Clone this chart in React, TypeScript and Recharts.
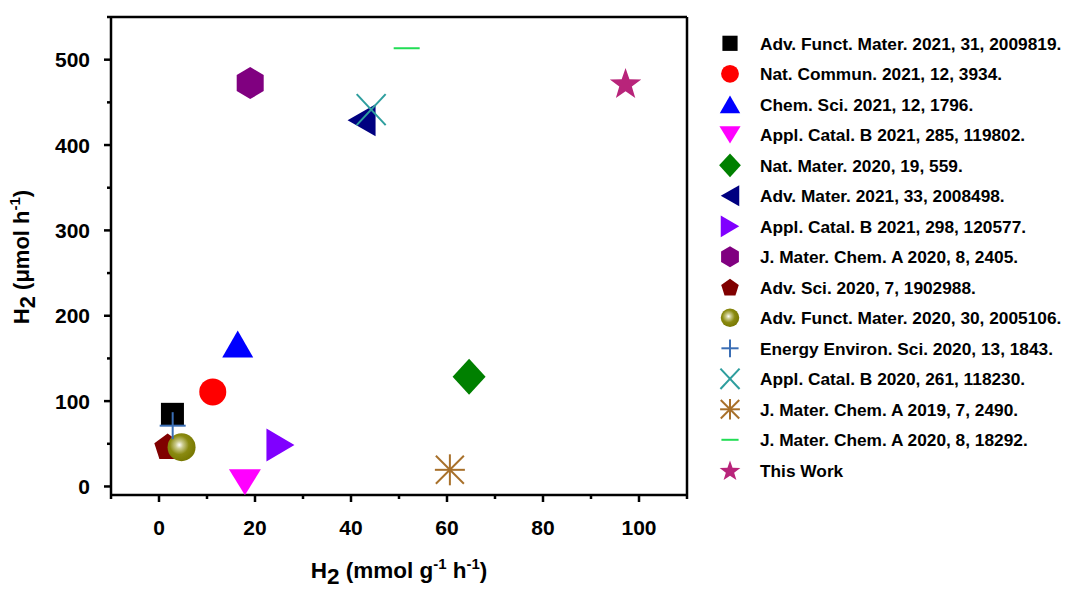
import React from 'react';
import { ScatterChart, Scatter, XAxis, YAxis, ReferenceLine } from 'recharts';

// literature references, in legend order
const references = [
  'Adv. Funct. Mater. 2021, 31, 2009819.',
  'Nat. Commun. 2021, 12, 3934.',
  'Chem. Sci. 2021, 12, 1796.',
  'Appl. Catal. B 2021, 285, 119802.',
  'Nat. Mater. 2020, 19, 559.',
  'Adv. Mater. 2021, 33, 2008498.',
  'Appl. Catal. B 2021, 298, 120577.',
  'J. Mater. Chem. A 2020, 8, 2405.',
  'Adv. Sci. 2020, 7, 1902988.',
  'Adv. Funct. Mater. 2020, 30, 2005106.',
  'Energy Environ. Sci. 2020, 13, 1843.',
  'Appl. Catal. B 2020, 261, 118230.',
  'J. Mater. Chem. A 2019, 7, 2490.',
  'J. Mater. Chem. A 2020, 8, 18292.',
  'This Work',
];

// H2 (mmol g-1 h-1)
const h2Mass = [2.8, 11.2, 16.4, 17.9, 64.6, 42.2, 25.3, 19.0, 1.8, 4.7, 2.85, 44.2, 60.6, 51.6, 97.2];
// H2 (umol h-1)
const h2Abs = [84.5, 110.8, 167, 5, 128.4, 429, 48.7, 472.6, 46.7, 46, 71.2, 441.5, 19.5, 513.4, 472.6];

const xTicks = [-10, 0, 10, 20, 30, 40, 50, 60, 70, 80, 90, 100, 110];
const yTicks = [0, 50, 100, 150, 200, 250, 300, 350, 400, 450, 500, 550];

const markerKinds = ['square', 'circle', 'up', 'down', 'diamond', 'left', 'right', 'hexagon', 'pentagon', 'sphere', 'plus', 'cross', 'asterisk', 'dash', 'star'];
const markerColors = ['#000000', '#ff0000', '#0000ff', '#ff00ff', '#008000', '#000080', '#8000ff', '#800080', '#800000', '#808000', '#3a6eb5', '#2e9e9e', '#a8702a', '#22dd55', '#b8247a'];

const FONT = '"Liberation Sans", Arial, sans-serif';

const pts = (arr: number[][], cx: number, cy: number, s: number) =>
  arr.map(([a, b]) => `${cx + a * s},${cy + b * s}`).join(' ');

function Marker({ kind, color, cx, cy, s = 1, id }: { kind: string; color: string; cx: number; cy: number; s?: number; id: string }) {
  switch (kind) {
    case 'square':
      return <rect x={cx - 11.5 * s} y={cy - 11.5 * s} width={23 * s} height={23 * s} fill={color} />;
    case 'circle':
      return <circle cx={cx} cy={cy} r={13.5 * s} fill={color} />;
    case 'up':
      return <polygon points={pts([[0, -13.5], [15.5, 13.5], [-15.5, 13.5]], cx, cy, s)} fill={color} />;
    case 'down':
      return <polygon points={pts([[-16, -13], [16, -13], [0, 13]], cx, cy, s)} fill={color} />;
    case 'diamond':
      return <polygon points={pts([[0, -18], [16.5, 0], [0, 18], [-16.5, 0]], cx, cy, s)} fill={color} />;
    case 'left':
      return <polygon points={pts([[-14, 0], [14, -16], [14, 16]], cx, cy, s)} fill={color} />;
    case 'right':
      return <polygon points={pts([[14, 0], [-14, -16.5], [-14, 16.5]], cx, cy, s)} fill={color} />;
    case 'hexagon':
      return <polygon points={pts([[0, -16], [13.5, -8], [13.5, 8], [0, 16], [-13.5, 8], [-13.5, -8]], cx, cy, s)} fill={color} />;
    case 'pentagon': {
      const p = [0, 1, 2, 3, 4].map((k) => {
        const a = (-90 + 72 * k) * Math.PI / 180;
        return [14 * Math.cos(a), 14 * Math.sin(a) + 1];
      });
      return <polygon points={pts(p, cx, cy, s)} fill={color} />;
    }
    case 'sphere':
      return (
        <g>
          <defs>
            <radialGradient id={id} cx="0.42" cy="0.42" r="0.62">
              <stop offset="0" stopColor="#ffffff" />
              <stop offset="0.22" stopColor="#c9c98a" />
              <stop offset="0.55" stopColor="#8a8a10" />
              <stop offset="1" stopColor="#767600" />
            </radialGradient>
          </defs>
          <circle cx={cx} cy={cy} r={14 * s} fill={`url(#${id})`} />
        </g>
      );
    case 'plus':
      return (
        <g stroke={color} strokeWidth={2}>
          <line x1={cx - 13 * s} x2={cx + 13 * s} y1={cy} y2={cy} />
          <line x1={cx} x2={cx} y1={cy - 13.5 * s} y2={cy + 13.5 * s} />
        </g>
      );
    case 'cross':
      return (
        <g stroke={color} strokeWidth={2}>
          <line x1={cx - 14.5 * s} x2={cx + 14.5 * s} y1={cy - 15.5 * s} y2={cy + 15.5 * s} />
          <line x1={cx - 14.5 * s} x2={cx + 14.5 * s} y1={cy + 15.5 * s} y2={cy - 15.5 * s} />
        </g>
      );
    case 'asterisk':
      return (
        <g stroke={color} strokeWidth={2}>
          <line x1={cx - 15 * s} x2={cx + 15 * s} y1={cy} y2={cy} />
          <line x1={cx} x2={cx} y1={cy - 15.5 * s} y2={cy + 15.5 * s} />
          <line x1={cx - 14 * s} x2={cx + 14 * s} y1={cy - 14 * s} y2={cy + 14 * s} />
          <line x1={cx - 14 * s} x2={cx + 14 * s} y1={cy + 14 * s} y2={cy - 14 * s} />
        </g>
      );
    case 'dash':
      return <line x1={cx - 13 * s} x2={cx + 13 * s} y1={cy} y2={cy} stroke={color} strokeWidth={2} />;
    case 'star': {
      const p: number[][] = [];
      for (let k = 0; k < 10; k++) {
        const a = (-90 + 36 * k) * Math.PI / 180;
        const r = k % 2 === 0 ? 16.5 : 6.6;
        p.push([r * Math.cos(a), r * Math.sin(a) + 1.5]);
      }
      return <polygon points={pts(p, cx, cy, s)} fill={color} />;
    }
    default:
      return null;
  }
}

const renderYTick = (props: any) => {
  const { x, y, payload } = props;
  const major = payload.value % 100 === 0;
  return (
    <g>
      <line x1={x - (major ? 7 : 4)} x2={x} y1={y} y2={y} stroke="#000" strokeWidth={2.5} />
      {major && (
        <text x={x - 21} y={y} dy="0.36em" textAnchor="end" fontFamily={FONT} fontWeight="bold" fontSize={21} fill="#000">
          {payload.value}
        </text>
      )}
    </g>
  );
};

const renderXTick = (props: any) => {
  const { x, y, payload } = props;
  const major = payload.value % 20 === 0;
  return (
    <g>
      <line x1={x} x2={x} y1={y} y2={y + (major ? 7 : 4)} stroke="#000" strokeWidth={2.5} />
      {major && (
        <text x={x} y={y + 40} textAnchor="middle" fontFamily={FONT} fontWeight="bold" fontSize={21} fill="#000">
          {payload.value}
        </text>
      )}
    </g>
  );
};

const XTitle = (props: any) => {
  const { viewBox } = props;
  const cx = viewBox.x + viewBox.width / 2;
  return (
    <text x={cx} y={578} textAnchor="middle" fontFamily={FONT} fontWeight="bold" fontSize={22.5} fill="#000">
      <tspan>H</tspan>
      <tspan dy={6}>2</tspan>
      <tspan dy={-6}> (mmol g</tspan>
      <tspan dy={-9} fontSize={15}>-1</tspan>
      <tspan dy={9}> h</tspan>
      <tspan dy={-9} fontSize={15}>-1</tspan>
      <tspan dy={9}>)</tspan>
    </text>
  );
};

const YTitle = () => {
  const cx = 29;
  const cy = 257;
  return (
    <text x={cx} y={cy} transform={`rotate(-90, ${cx}, ${cy})`} textAnchor="middle" fontFamily={FONT} fontWeight="bold" fontSize={22} fill="#000">
      <tspan>H</tspan>
      <tspan dy={6}>2</tspan>
      <tspan dy={-6}> (μmol h</tspan>
      <tspan dy={-9} fontSize={15}>-1</tspan>
      <tspan dy={9}>)</tspan>
    </text>
  );
};

export default function App() {
  return (
    <div style={{ position: 'fixed', left: 0, top: 0, width: 1067, height: 590, background: '#fff' }}>
      <ScatterChart width={700} height={590} margin={{ top: 17, right: 13, bottom: 35, left: 51 }}>
        <XAxis
          type="number"
          dataKey="x"
          domain={[-10, 110]}
          ticks={xTicks}
          interval={0}
          allowDataOverflow
          height={60}
          tickSize={0}
          tickMargin={0}
          tickLine={false}
          tick={renderXTick}
          axisLine={{ stroke: '#000', strokeWidth: 2.5 }}
          label={<XTitle />}
        />
        <YAxis
          type="number"
          dataKey="y"
          domain={[-10, 550]}
          ticks={yTicks}
          interval={0}
          allowDataOverflow
          width={60}
          tickSize={0}
          tickMargin={0}
          tickLine={false}
          tick={renderYTick}
          axisLine={{ stroke: '#000', strokeWidth: 2.5 }}
          label={<YTitle />}
        />
        <ReferenceLine y={550} stroke="#000" strokeWidth={2.5} />
        <ReferenceLine x={110} stroke="#000" strokeWidth={2.5} />
        {references.map((ref, i) => (
          <Scatter
            key={ref}
            name={ref}
            data={[{ x: h2Mass[i], y: h2Abs[i] }]}
            isAnimationActive={false}
            shape={(p: any) => <Marker kind={markerKinds[i]} color={markerColors[i]} cx={p.cx} cy={p.cy} id={`plot-sph-${i}`} />}
          />
        ))}
      </ScatterChart>
      <svg width={367} height={590} style={{ position: 'absolute', left: 700, top: 0 }}>
        {references.map((ref, i) => {
          const y = 43.3 + i * 30.5;
          return (
            <g key={ref}>
              <Marker kind={markerKinds[i]} color={markerColors[i]} cx={30} cy={y} s={0.66} id={`leg-sph-${i}`} />
              <text x={60} y={y} dy="0.36em" fontFamily={FONT} fontWeight="bold" fontSize={17.3} fill="#000">
                {ref}
              </text>
            </g>
          );
        })}
      </svg>
    </div>
  );
}
